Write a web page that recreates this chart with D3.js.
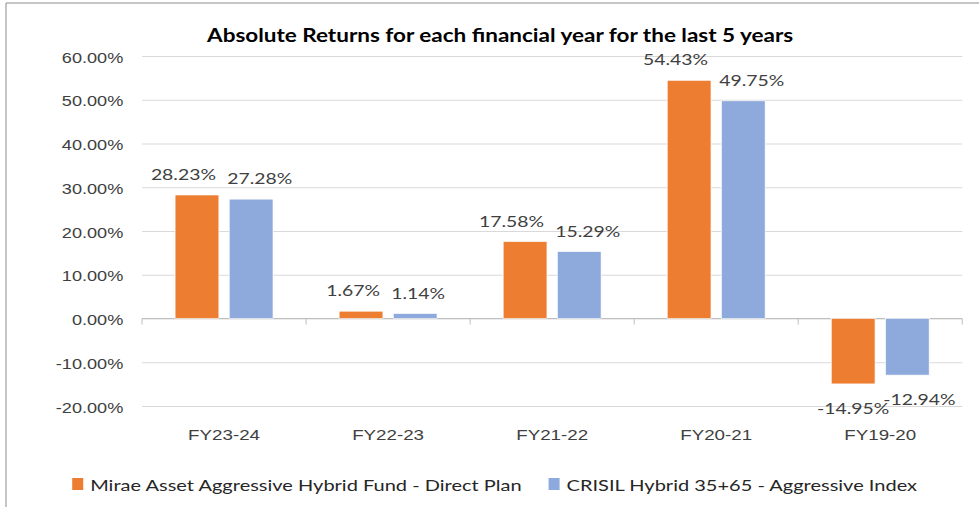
<!DOCTYPE html>
<html>
<head>
<meta charset="utf-8">
<script src="https://cdn.jsdelivr.net/npm/d3@7"></script>
<style>
  body { margin: 0; background: #fff; }
  svg { display: block; }
</style>
</head>
<body>
<div id="chart"></div>
<script>
var categories = ["FY23-24", "FY22-23", "FY21-22", "FY20-21", "FY19-20"];
var seriesNames = ["Mirae Asset Aggressive Hybrid Fund - Direct Plan", "CRISIL Hybrid 35+65 - Aggressive Index"];
var fundValues = [28.23, 1.67, 17.58, 54.43, -14.95];
var indexValues = [27.28, 1.14, 15.29, 49.75, -12.94];
var yTicks = [-20, -10, 0, 10, 20, 30, 40, 50, 60];
var colors = ["#ED7D31", "#8EA9DB"];

// drawn in a narrower box, then stretched to the window like the original picture
var W = 783, H = 507;
var margin = { top: 56, right: 13.4, bottom: 101, left: 113.6 },
    width = W - margin.left - margin.right,
    height = H - margin.top - margin.bottom;

var pct = function (v) { return v.toFixed(2) + "%"; };

var svgRoot = d3.select("#chart")
    .append("svg")
    .attr("width", 979)
    .attr("height", 507)
    .attr("viewBox", "0 0 " + W + " " + H)
    .attr("preserveAspectRatio", "none")
    .style("font-family", "Lato, 'Open Sans', sans-serif");

// outer frame: only the top and left edges are in view
svgRoot.append("path")
    .attr("d", "M4.8," + H + "V3H" + W)
    .attr("fill", "none")
    .attr("stroke", "#8c8c8c")
    .attr("stroke-width", 1)
    .attr("vector-effect", "non-scaling-stroke");

svgRoot.append("text")
    .attr("x", 400)
    .attr("y", 42)
    .attr("fill", "#000")
    .attr("font-weight", "bold")
    .style("font-size", "18px")
    .style("text-anchor", "middle")
    .text("Absolute Returns for each financial year for the last 5 years");

var svg = svgRoot.append("g")
    .attr("transform", "translate(" + margin.left + "," + margin.top + ")");

var data = categories.map(function (c, i) {
    return { cat: c, values: [fundValues[i], indexValues[i]] };
});

var x0 = d3.scaleBand()
    .domain(categories)
    .range([0, width])
    .padding(0);

var x1 = d3.scaleBand()
    .domain([0, 1])
    .range([0, x0.bandwidth()])
    .paddingInner(0.19)
    .paddingOuter(0.61);

var y = d3.scaleLinear()
    .domain([-20, 60])
    .range([height, 0]);

// gridlines + y labels
var yAxis = svg.append("g")
    .call(d3.axisLeft(y)
        .tickValues(yTicks)
        .tickSize(-width)
        .tickPadding(15)
        .tickFormat(pct));
yAxis.select(".domain").remove();
yAxis.selectAll(".tick line")
    .attr("stroke", "#d9d9d9")
    .attr("vector-effect", "non-scaling-stroke");
yAxis.selectAll(".tick text")
    .attr("fill", "#404040")
    .attr("dy", "0.42em")
    .style("font-size", "14.5px");

// zero line with category boundary ticks
svg.append("line")
    .attr("x1", 0).attr("x2", width)
    .attr("y1", y(0)).attr("y2", y(0))
    .attr("stroke", "#bfbfbf")
    .attr("vector-effect", "non-scaling-stroke");

var bounds = categories.map(function (c) { return x0(c); }).concat([width]);
svg.selectAll(".cat-tick")
    .data(bounds)
    .enter().append("line")
    .attr("class", "cat-tick")
    .attr("x1", function (d) { return d; })
    .attr("x2", function (d) { return d; })
    .attr("y1", y(0))
    .attr("y2", y(0) + 6)
    .attr("stroke", "#bfbfbf")
    .attr("vector-effect", "non-scaling-stroke");

// category labels along the bottom
var xAxis = svg.append("g")
    .attr("transform", "translate(0," + (height + 18) + ")")
    .call(d3.axisBottom(x0).tickSize(0).tickPadding(0));
xAxis.select(".domain").remove();
xAxis.selectAll(".tick text")
    .attr("fill", "#404040")
    .attr("dy", "1.1em")
    .style("font-size", "15px");

// bars
var groups = svg.selectAll(".grp")
    .data(data)
    .enter().append("g")
    .attr("class", "grp")
    .attr("transform", function (d) { return "translate(" + x0(d.cat) + ",0)"; });

groups.selectAll("rect")
    .data(function (d) { return d.values.map(function (v, i) { return { s: i, v: v }; }); })
    .enter().append("rect")
    .attr("x", function (d) { return x1(d.s); })
    .attr("width", x1.bandwidth())
    .attr("y", function (d) { return y(Math.max(0, d.v)); })
    .attr("height", function (d) { return Math.abs(y(d.v) - y(0)); })
    .attr("fill", function (d) { return colors[d.s]; })
    .attr("stroke", "#fff")
    .attr("stroke-width", 0.6);

// value labels
groups.selectAll(".lbl")
    .data(function (d) { return d.values.map(function (v, i) { return { s: i, v: v }; }); })
    .enter().append("text")
    .attr("class", "lbl")
    .attr("fill", "#404040")
    .style("font-size", "15.5px")
    .attr("x", function (d) {
        if (d.s === 0) return d.v < 0 ? x1(0) + x1.bandwidth() / 2 : x1(0) + x1.bandwidth() - 2.4;
        return x1(1) - 1.6;
    })
    .attr("y", function (d) { return d.v < 0 ? y(d.v) + 30 : y(d.v) - 15; })
    .style("text-anchor", function (d) {
        if (d.s === 0) return d.v < 0 ? "middle" : "end";
        return "start";
    })
    .text(function (d) { return pct(d.v); });

// legend
var legend = svgRoot.append("g");
var lx = 0;
seriesNames.forEach(function (name, i) {
    var item = legend.append("g").attr("transform", "translate(" + lx + ",0)");
    item.append("rect")
        .attr("x", 0).attr("y", 478)
        .attr("width", 8.8).attr("height", 12)
        .attr("fill", colors[i]);
    var t = item.append("text")
        .attr("x", 14.4).attr("y", 491)
        .attr("fill", "#262626")
        .style("font-size", "16px")
        .text(name);
    lx += 14.4 + t.node().getComputedTextLength() + 21.6;
});
var legendW = lx - 21.6;
legend.attr("transform", "translate(" + (395.6 - legendW / 2) + ",0)");
</script>
</body>
</html>
